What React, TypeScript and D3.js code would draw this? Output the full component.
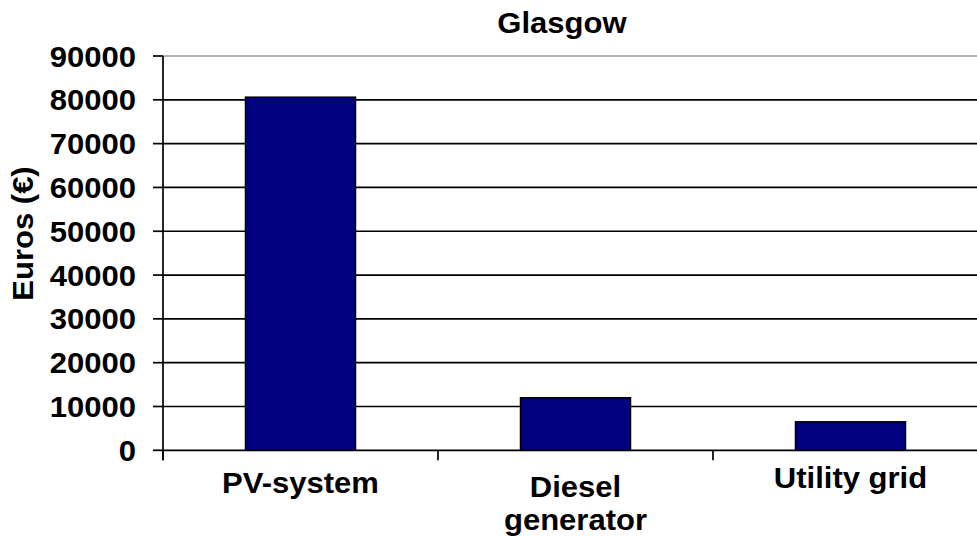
import React from "react";
import * as d3 from "d3";

const categories: string[][] = [["PV-system"], ["Diesel", "generator"], ["Utility grid"]];
const values: number[] = [80600, 12000, 6500];
const yTicks: number[] = [0, 10000, 20000, 30000, 40000, 50000, 60000, 70000, 80000, 90000];
const chartTitle = "Glasgow";
const yTitle = "Euros (€)";

const W = 977;
const H = 536;
const left = 163;
const right = 988;
const top = 56;
const bottom = 450.3;
const FONT = "'Liberation Sans', Arial, sans-serif";
const FS = 29;
const SX = 1.07;
// per-category label baseline (excel staggering)
const labelBaseline = [493, 497, 488];

function T({ x, y, anchor, children, rotate = 0 }: { x: number; y: number; anchor: string; children: React.ReactNode; rotate?: number }) {
  return (
    <text
      transform={`translate(${x},${y}) rotate(${rotate}) scale(${SX},1)`}
      textAnchor={anchor}
      fontSize={FS}
      fontWeight="bold"
      fill="#000"
    >
      {children}
    </text>
  );
}

export default function App() {
  const keys = categories.map((c) => c.join(" "));
  const x = d3.scaleBand<string>().domain(keys).range([left, right]).paddingInner(0.6).paddingOuter(0.3);
  const y = d3.scaleLinear().domain([0, 90000]).range([bottom, top]);
  const step = x.step();
  const boundaries = keys
    .map((k) => (x(k) as number) - step * 0.3)
    .concat([(x(keys[keys.length - 1]) as number) + x.bandwidth() + step * 0.3]);

  return (
    <svg width={W} height={H} style={{ position: "absolute", left: 0, top: 0, background: "#fff" }} fontFamily={FONT}>
      <rect x={0} y={0} width={W} height={H} fill="#fff" />
      {yTicks.map((t) => (
        <line key={"g" + t} x1={left} x2={W} y1={y(t)} y2={y(t)} stroke={t === 90000 ? "#999" : "#000"} strokeWidth={1.7} />
      ))}
      {values.map((v, i) => (
        <rect key={"b" + i} x={x(keys[i])} y={y(v)} width={x.bandwidth()} height={y(0) - y(v)} fill="#000080" stroke="#000" strokeWidth={1.5} />
      ))}
      <line x1={left} x2={left} y1={top} y2={bottom + 10} stroke="#000" strokeWidth={1.7} />
      {yTicks.map((t) => (
        <g key={"t" + t}>
          <line x1={left - 10} x2={left} y1={y(t)} y2={y(t)} stroke="#000" strokeWidth={1.7} />
          <T x={136} y={y(t) + 10.5} anchor="end">
            {t}
          </T>
        </g>
      ))}
      {boundaries.map((b, i) => (
        <line key={"xt" + i} x1={b} x2={b} y1={bottom} y2={bottom + 10} stroke="#000" strokeWidth={1.7} />
      ))}
      {categories.map((lines, i) => {
        const cx = (x(keys[i]) as number) + x.bandwidth() / 2;
        return (
          <T key={"c" + i} x={cx} y={labelBaseline[i]} anchor="middle">
            {lines.map((ln, j) => (
              <tspan key={j} x={0} dy={j === 0 ? 0 : 33}>
                {ln}
              </tspan>
            ))}
          </T>
        );
      })}
      <T x={562} y={33} anchor="middle">
        {chartTitle}
      </T>
      <T x={33} y={233.5} anchor="middle" rotate={-90}>
        {yTitle}
      </T>
    </svg>
  );
}
